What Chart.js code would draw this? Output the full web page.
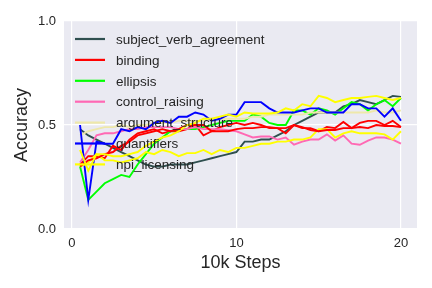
<!DOCTYPE html>
<html>
<head>
<meta charset="utf-8">
<script src="https://cdn.jsdelivr.net/npm/chart.js@4"></script>
<style>
  html, body { margin: 0; padding: 0; background: #ffffff; }
  #wrap { width: 432px; height: 288px; }
</style>
</head>
<body>
<div id="wrap"><canvas id="grafico" width="432" height="288"></canvas></div>
<script>
// pasos (x 10k) y precision de cada fenomeno
const steps = [0.5, 1, 1.5, 2, 2.5, 3, 3.5, 4, 4.5, 5, 5.5, 6, 6.5, 7, 7.5, 8, 8.5, 9, 9.5, 10,
               10.5, 11, 11.5, 12, 12.5, 13, 13.5, 14, 14.5, 15, 15.5, 16, 16.5, 17, 17.5, 18, 18.5, 19, 19.5, 20];

const subjectVerbAgreement = [0.48, 0.45, 0.43, 0.41, 0.39, 0.37, 0.35, 0.33, 0.31, 0.30, 0.30, 0.31, 0.31, 0.31, 0.32, 0.33, 0.34, 0.35, 0.36, 0.37,
                              0.42, 0.42, 0.43, 0.43, 0.45, 0.47, 0.50, 0.52, 0.54, 0.56, 0.56, 0.56, 0.59, 0.60, 0.62, 0.61, 0.60, 0.62, 0.64, 0.635];
const binding = [0.31, 0.35, 0.35, 0.34, 0.40, 0.38, 0.43, 0.46, 0.47, 0.48, 0.46, 0.47, 0.47, 0.48, 0.50, 0.45, 0.47, 0.49, 0.50, 0.51,
                 0.50, 0.51, 0.50, 0.485, 0.485, 0.46, 0.50, 0.485, 0.485, 0.47, 0.49, 0.485, 0.515, 0.485, 0.51, 0.52, 0.52, 0.50, 0.52, 0.49];
const ellipsis = [0.30, 0.14, 0.18, 0.22, 0.24, 0.26, 0.25, 0.31, 0.36, 0.41, 0.44, 0.47, 0.48, 0.48, 0.48, 0.49, 0.50, 0.51, 0.52, 0.52,
                  0.52, 0.55, 0.54, 0.51, 0.50, 0.50, 0.57, 0.57, 0.55, 0.58, 0.57, 0.55, 0.58, 0.61, 0.60, 0.57, 0.60, 0.62, 0.59, 0.63];
const controlRaising = [0.32, 0.38, 0.45, 0.46, 0.46, 0.47, 0.48, 0.48, 0.49, 0.49, 0.49, 0.49, 0.48, 0.48, 0.49, 0.48, 0.48, 0.48, 0.475, 0.47,
                        0.455, 0.44, 0.445, 0.445, 0.43, 0.44, 0.405, 0.42, 0.43, 0.43, 0.455, 0.425, 0.45, 0.41, 0.405, 0.425, 0.44, 0.44, 0.43, 0.41];
const argumentStructure = [0.45, 0.47, 0.48, 0.49, 0.49, 0.50, 0.49, 0.50, 0.50, 0.51, 0.51, 0.51, 0.52, 0.52, 0.52, 0.52, 0.53, 0.53, 0.53, 0.53,
                           0.53, 0.54, 0.54, 0.55, 0.55, 0.55, 0.55, 0.55, 0.56, 0.56, 0.56, 0.56, 0.56, 0.56, 0.56, 0.56, 0.57, 0.56, 0.56, 0.57];
const quantifiers = [0.50, 0.14, 0.42, 0.41, 0.41, 0.48, 0.47, 0.49, 0.48, 0.51, 0.52, 0.51, 0.54, 0.54, 0.56, 0.55, 0.52, 0.53, 0.55, 0.55,
                     0.61, 0.61, 0.61, 0.58, 0.56, 0.56, 0.56, 0.57, 0.58, 0.58, 0.56, 0.56, 0.56, 0.60, 0.60, 0.58, 0.58, 0.54, 0.58, 0.52];
const npiLicensing = [0.30, 0.32, 0.36, 0.33, 0.33, 0.32, 0.33, 0.34, 0.37, 0.36, 0.38, 0.37, 0.35, 0.365, 0.365, 0.38, 0.36, 0.38, 0.37, 0.39,
                      0.39, 0.40, 0.41, 0.41, 0.42, 0.42, 0.43, 0.43, 0.44, 0.48, 0.48, 0.44, 0.46, 0.47, 0.46, 0.46, 0.46, 0.455, 0.43, 0.47];
// dos lineas sin entrada en la leyenda
const extraRed = [0.30, 0.33, 0.34, 0.36, 0.37, 0.40, 0.42, 0.45, 0.46, 0.47, 0.48, 0.47, 0.48, 0.50, 0.50, 0.50, 0.47, 0.47, 0.47, 0.48,
                  0.485, 0.485, 0.49, 0.49, 0.485, 0.485, 0.50, 0.49, 0.476, 0.47, 0.476, 0.476, 0.485, 0.485, 0.49, 0.485, 0.50, 0.495, 0.495, 0.49];
const extraYellow = [0.38, 0.28, 0.36, 0.36, 0.35, 0.35, 0.36, 0.37, 0.40, 0.42, 0.44, 0.45, 0.47, 0.50, 0.51, 0.53, 0.53, 0.54, 0.55, 0.54,
                     0.56, 0.555, 0.555, 0.555, 0.56, 0.58, 0.57, 0.60, 0.59, 0.64, 0.63, 0.61, 0.62, 0.63, 0.63, 0.635, 0.64, 0.63, 0.62, 0.63];

const xTicks = [0, 10, 20];
const yTicks = [0, 0.5, 1];

const series = [
    { label: 'subject_verb_agreement', data: subjectVerbAgreement, color: '#2f4f4f' },
    { label: 'binding', data: binding, color: '#ff0000' },
    { label: 'ellipsis', data: ellipsis, color: '#00ff00' },
    { label: 'control_raising', data: controlRaising, color: '#ff69b4' },
    { label: 'argument_structure', data: argumentStructure, color: '#eee8aa' },
    { label: 'quantifiers', data: quantifiers, color: '#0000ff' },
    { label: 'npi_licensing', data: npiLicensing, color: '#ffff00' },
    { label: '', data: extraRed, color: '#ff0000' },
    { label: '', data: extraYellow, color: '#ffff00' }
];

const fuente = '"Liberation Sans", Arial, sans-serif';
const texto = '#262626';

// fondo gris del area de datos
const fondo = {
    id: 'fondo',
    beforeDraw(chart) {
        const { ctx, chartArea } = chart;
        ctx.save();
        ctx.fillStyle = '#eaeaf2';
        ctx.fillRect(chartArea.left, chartArea.top, chartArea.right - chartArea.left, chartArea.bottom - chartArea.top);
        ctx.restore();
    }
};

// leyenda dentro del grafico, arriba a la izquierda
const leyenda = {
    id: 'leyenda',
    afterDatasetsDraw(chart) {
        const { ctx, chartArea } = chart;
        const x0 = chartArea.left + 11;
        let y = chartArea.top + 18;
        ctx.save();
        ctx.font = '13.5px ' + fuente;
        ctx.textBaseline = 'middle';
        chart.data.datasets.forEach(ds => {
            if (!ds.label) return;
            ctx.strokeStyle = ds.borderColor;
            ctx.lineWidth = 2.2;
            ctx.beginPath();
            ctx.moveTo(x0, y);
            ctx.lineTo(x0 + 30, y);
            ctx.stroke();
            ctx.fillStyle = texto;
            ctx.fillText(ds.label, x0 + 41, y + 1);
            y += 20.9;
        });
        ctx.restore();
    }
};

const ctx = document.getElementById('grafico').getContext('2d');

new Chart(ctx, {
    type: 'line',
    data: {
        datasets: series.map((s, i) => ({
            label: s.label,
            data: steps.map((x, j) => ({ x: x, y: s.data[j] })),
            borderColor: s.color,
            backgroundColor: s.color,
            borderWidth: 1.9,
            pointRadius: 0,
            tension: 0,
            fill: false,
            order: -i
        }))
    },
    options: {
        responsive: false,
        animation: false,
        events: [],
        layout: { padding: { left: 0, right: 15, top: 21, bottom: 0 } },
        plugins: {
            legend: { display: false },
            tooltip: { enabled: false }
        },
        scales: {
            x: {
                type: 'linear',
                min: -0.475,
                max: 20.975,
                afterBuildTicks: scale => { scale.ticks = xTicks.map(v => ({ value: v })); },
                afterFit: scale => { scale.height = 59; },
                grid: { color: '#ffffff', lineWidth: 1.2, drawTicks: false },
                border: { display: false },
                ticks: {
                    padding: 7,
                    color: texto,
                    font: { family: fuente, size: 13 },
                    callback: v => String(v)
                },
                title: {
                    display: true,
                    text: '10k Steps',
                    color: texto,
                    font: { family: fuente, size: 18 },
                    padding: { top: 0, bottom: 14 }
                }
            },
            y: {
                type: 'linear',
                min: 0,
                max: 1,
                afterBuildTicks: scale => { scale.ticks = yTicks.map(v => ({ value: v })); },
                afterFit: scale => { scale.width = 64; },
                grid: { color: '#ffffff', lineWidth: 1.2, drawTicks: false },
                border: { display: false },
                ticks: {
                    padding: 8,
                    color: texto,
                    font: { family: fuente, size: 13 },
                    callback: v => v.toFixed(1)
                },
                title: {
                    display: true,
                    text: 'Accuracy',
                    color: texto,
                    font: { family: fuente, size: 18 },
                    padding: { top: 11, bottom: 0 }
                }
            }
        }
    },
    plugins: [fondo, leyenda]
});
</script>
</body>
</html>
